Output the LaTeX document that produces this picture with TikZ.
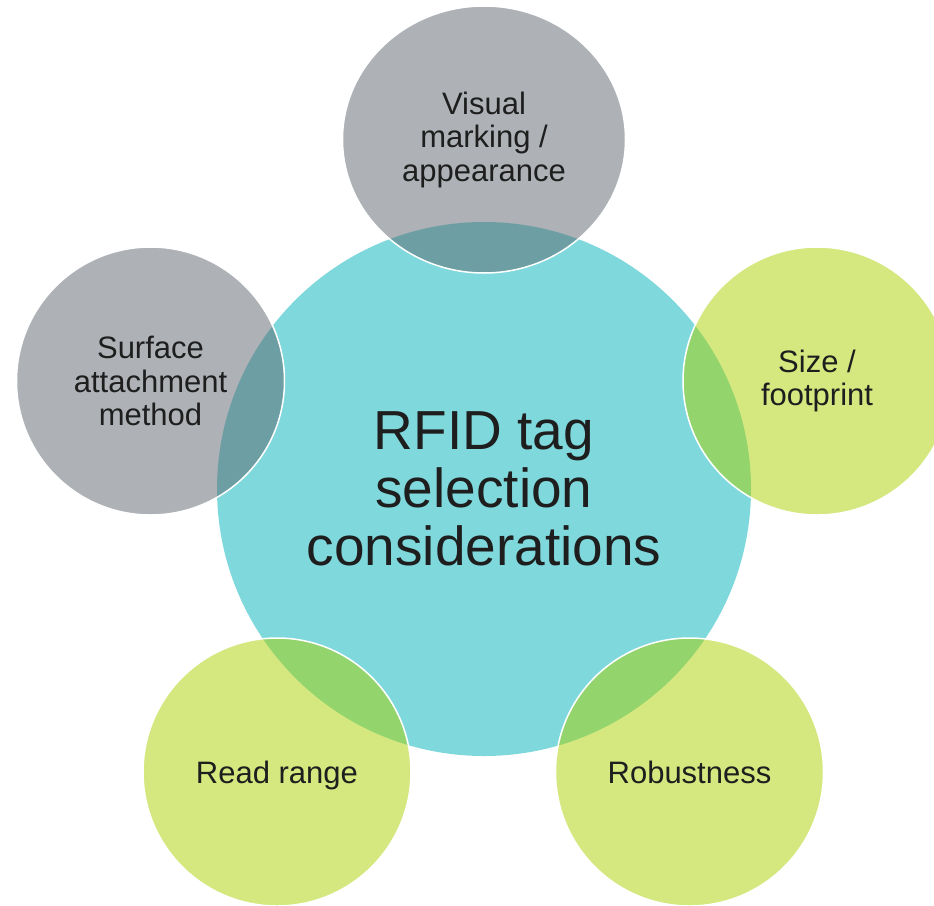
\documentclass[tikz,border=0pt]{standalone}
\usepackage{fontspec}
\setmainfont{Liberation Sans}
\usetikzlibrary{shapes.geometric}
\definecolor{hubcyan}{RGB}{127,216,220}
\definecolor{satgrey}{RGB}{93,101,109}
\definecolor{satgreen}{RGB}{169,209,0}
\definecolor{textdark}{RGB}{30,30,30}
\tikzset{hub/.style = {circle, fill=hubcyan, minimum size=534pt, inner sep=0pt,
    align=center, text=textdark, font=\fontsize{55}{58}\selectfont},
  sat/.style = {circle, minimum size=268pt, inner sep=0pt, fill opacity=.5,
    text opacity=1, draw=white, draw opacity=1, line width=1.5pt,
    align=center, text=textdark, font=\fontsize{31}{33.5}\selectfont}}

\begin{document}
\begin{tikzpicture}[x=1pt, y=1pt]
  \useasboundingbox (0,0) rectangle (934,-905);
  % centre
  \node [hub] (rfid) at (484,-489) {RFID tag\\selection\\considerations};
  % satellites
  \node [sat, ellipse, minimum width=283pt, minimum height=267pt, fill=satgrey]
    (visual) at (484,-139.5) {Visual\\marking /\\appearance};
  \node [sat, fill=satgrey] (surface) at (150.5,-381) {Surface\\attachment\\method};
  \node [sat, fill=satgreen] (size) at (817,-381) {Size /\\footprint};
  \node [sat, fill=satgreen, text depth=0pt] (range) at (277,-772) {Read range};
  \node [sat, fill=satgreen] (robust) at (689.5,-772) {Robustness};
\end{tikzpicture}
\end{document}
